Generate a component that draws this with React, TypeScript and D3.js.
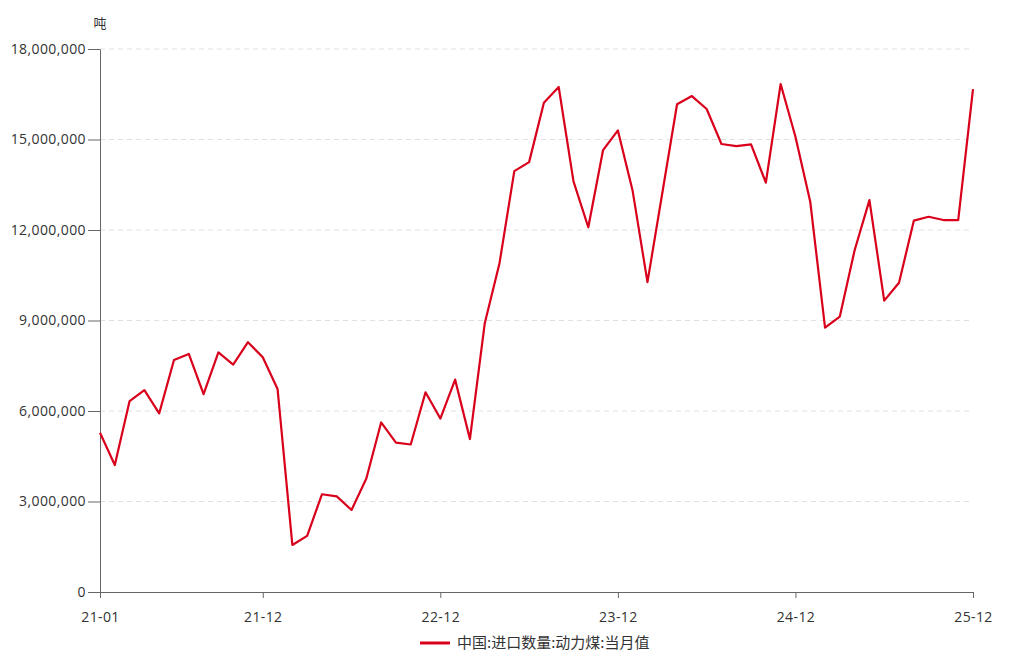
import React, { useEffect, useRef } from 'react';
import * as d3 from 'd3';

// month labels 21-01 .. 25-12
const months: string[] = [];
for (let y = 21; y <= 25; y++) {
  for (let m = 1; m <= 12; m++) {
    months.push(`${y}-${String(m).padStart(2, '0')}`);
  }
}

// 中国:进口数量:动力煤:当月值 (吨)
const values = [
  5280000, 4210000, 6330000, 6690000, 5920000, 7690000, 7890000, 6560000, 7940000, 7540000, 8280000, 7780000,
  6730000, 1560000, 1860000, 3240000, 3170000, 2720000, 3760000, 5620000, 4950000, 4890000, 6620000, 5750000,
  7040000, 5070000, 8900000, 10900000, 13950000, 14250000, 16220000, 16740000, 13610000, 12090000, 14650000, 15300000,
  13290000, 10270000, 13220000, 16170000, 16440000, 16010000, 14850000, 14780000, 14840000, 13570000, 16840000, 15090000,
  12940000, 8760000, 9130000, 11330000, 12990000, 9660000, 10250000, 12310000, 12440000, 12330000, 12330000, 16670000,
];

const xTickLabels = ['21-01', '21-12', '22-12', '23-12', '24-12', '25-12'];
const yTicks = [0, 3000000, 6000000, 9000000, 12000000, 15000000, 18000000];
const seriesName = '中国:进口数量:动力煤:当月值';
const unit = '吨';

const App: React.FC = () => {
  const ref = useRef<SVGSVGElement>(null);

  useEffect(() => {
    if (!ref.current) return;
    const svg = d3.select(ref.current);
    svg.selectAll('*').remove();

    const margin = { top: 49, right: 57, bottom: 63, left: 100 };
    const width = 1030 - margin.left - margin.right;
    const height = 655 - margin.top - margin.bottom;
    const font = '"Open Sans", "Noto Sans CJK SC", sans-serif';
    const cjkFont = '"Noto Sans CJK SC", sans-serif';
    const red = '#d9001b';

    const g = svg
      .append('g')
      .attr('transform', `translate(${margin.left},${margin.top})`);

    const x = d3.scalePoint<string>().domain(months).range([0, width]);
    const y = d3.scaleLinear().domain([0, 18000000]).range([height, 0]);

    // grid lines
    g.append('g')
      .selectAll('line')
      .data(yTicks.filter((d) => d > 0))
      .enter()
      .append('line')
      .attr('x1', 0)
      .attr('x2', width)
      .attr('y1', (d) => y(d))
      .attr('y2', (d) => y(d))
      .attr('stroke', '#e0e0e0')
      .attr('stroke-dasharray', '5,4');

    // y axis
    const yAxis = g
      .append('g')
      .call(
        d3
          .axisLeft(y)
          .tickValues(yTicks)
          .tickSize(12)
          .tickPadding(2)
          .tickSizeOuter(0)
          .tickFormat((d) => d3.format(',')(d as number))
      );
    yAxis.select('.domain').attr('stroke', '#666');
    yAxis.selectAll('.tick line').attr('stroke', '#666');
    yAxis
      .selectAll('text')
      .attr('fill', '#333')
      .style('font-size', '14px')
      .style('letter-spacing', '0.4px')
      .style('font-family', font);

    // x axis
    const xAxis = g
      .append('g')
      .attr('transform', `translate(0,${height})`)
      .call(d3.axisBottom(x).tickValues(xTickLabels).tickSize(6).tickPadding(14).tickSizeOuter(0));
    xAxis.select('.domain').attr('stroke', '#666');
    xAxis.selectAll('.tick line').attr('stroke', '#666');
    xAxis
      .selectAll('text')
      .attr('fill', '#333')
      .style('font-size', '14px')
      .style('letter-spacing', '0.4px')
      .style('font-family', font);

    // unit label
    g.append('text')
      .attr('x', 0)
      .attr('y', -21)
      .attr('text-anchor', 'middle')
      .attr('fill', '#333')
      .style('font-size', '13px')
      .style('font-family', cjkFont)
      .text(unit);

    // line
    const line = d3
      .line<number>()
      .x((d, i) => x(months[i]) as number)
      .y((d) => y(d));

    g.append('path')
      .datum(values)
      .attr('fill', 'none')
      .attr('stroke', red)
      .attr('stroke-width', 2.2)
      .attr('stroke-linejoin', 'round')
      .attr('d', line);

    // legend
    const legend = svg.append('g').attr('transform', 'translate(420,643)');
    legend
      .append('line')
      .attr('x1', 0)
      .attr('x2', 30)
      .attr('y1', 0)
      .attr('y2', 0)
      .attr('stroke', red)
      .attr('stroke-width', 3);
    legend
      .append('text')
      .attr('x', 37)
      .attr('y', 0)
      .attr('dy', '0.35em')
      .attr('fill', '#333')
      .style('font-size', '15px')
      .style('font-family', cjkFont)
      .text(seriesName);
  }, []);

  return (
    <div style={{ position: 'absolute', left: 0, top: 0 }}>
      <svg width={1030} height={655} ref={ref} style={{ display: 'block', background: '#fff' }} />
    </div>
  );
};

export default App;
